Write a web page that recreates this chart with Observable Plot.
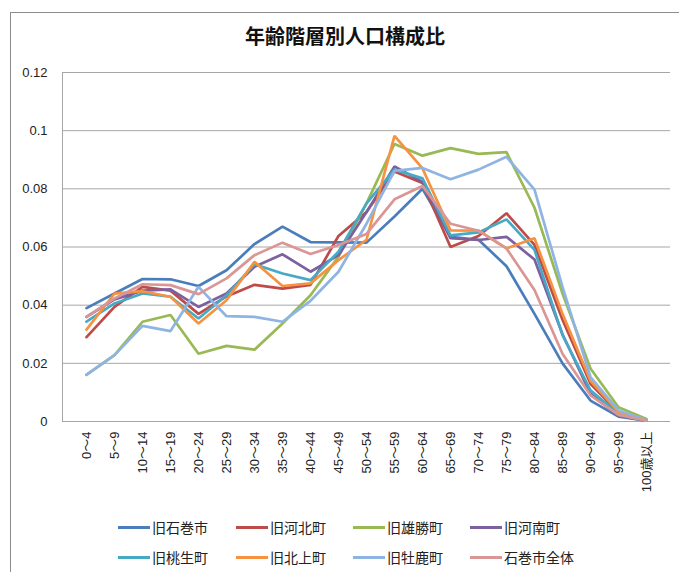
<!DOCTYPE html>
<html>
<head>
<meta charset="utf-8">
<script src="https://cdn.jsdelivr.net/npm/d3@7"></script>
<script src="https://cdn.jsdelivr.net/npm/@observablehq/plot@0.6"></script>
<style>
  body { margin: 0; background: #fff; }
  #wrap { position: relative; width: 679px; height: 572px; overflow: hidden; font-family: "Liberation Sans", "Noto Sans CJK JP", sans-serif; }
  #box { position: absolute; left: 10px; top: 12px; width: 720px; height: 620px; border: 1px solid #8c8c8c; }
  #title { position: absolute; left: 0; top: 26px; width: 690px; text-align: center; font: bold 20px/1 "Noto Sans CJK JP", sans-serif; color: #111; }
  #chart { position: absolute; left: 0; top: 60px; }
  #legend { position: absolute; left: 0; top: 512px; width: 679px; font: 14px/30px "Noto Sans CJK JP", sans-serif; color: #222; }
  .item { position: absolute; display: flex; align-items: center; }
  .sw { display: inline-block; width: 32px; height: 3px; margin-right: 2px; }
</style>
</head>
<body>
<div id="wrap">
  <div id="box"></div>
  <div id="title">年齢階層別人口構成比</div>
  <div id="chart"></div>
  <div id="legend"></div>
</div>
<script>
// 年齢階層
const ages = ["0～4", "5～9", "10～14", "15～19", "20～24", "25～29", "30～34", "35～39", "40～44", "45～49",
  "50～54", "55～59", "60～64", "65～69", "70～74", "75～79", "80～84", "85～89", "90～94", "95～99", "100歳以上"];

const seriesNames = ["旧石巻市", "旧河北町", "旧雄勝町", "旧河南町", "旧桃生町", "旧北上町", "旧牡鹿町", "石巻市全体"];
const colors = ["#4a7ebb", "#be4b48", "#98b954", "#7d60a0", "#46aac5", "#f69240", "#8eb4e3", "#da9694"];

const ishinomaki = [0.039, 0.044, 0.049, 0.0489, 0.0466, 0.052, 0.061, 0.067, 0.0617, 0.0616, 0.0615, 0.0705, 0.080, 0.0635, 0.0625, 0.0534, 0.037, 0.020, 0.0072, 0.0017, 0.0003];
const kahoku = [0.029, 0.0394, 0.0463, 0.045, 0.037, 0.043, 0.047, 0.0457, 0.047, 0.0638, 0.072, 0.086, 0.082, 0.060, 0.0638, 0.0716, 0.0607, 0.035, 0.013, 0.003, 0.0005];
const ogatsu = [0.016, 0.0228, 0.0343, 0.0366, 0.0233, 0.026, 0.0247, 0.0337, 0.0434, 0.0567, 0.075, 0.0954, 0.0914, 0.094, 0.092, 0.0926, 0.0735, 0.044, 0.0182, 0.0049, 0.0009];
const kanan = [0.036, 0.042, 0.045, 0.0454, 0.0394, 0.044, 0.0532, 0.0575, 0.0515, 0.0572, 0.072, 0.0877, 0.0824, 0.063, 0.0624, 0.0635, 0.0557, 0.030, 0.0095, 0.002, 0.0003];
const monou = [0.0343, 0.0406, 0.044, 0.0429, 0.0354, 0.0434, 0.0541, 0.0509, 0.0486, 0.0584, 0.075, 0.0866, 0.0836, 0.064, 0.065, 0.0695, 0.059, 0.0297, 0.0107, 0.0026, 0.0004];
const kitakami = [0.0316, 0.044, 0.0448, 0.0429, 0.0337, 0.0417, 0.0549, 0.0466, 0.0475, 0.0555, 0.0625, 0.0982, 0.087, 0.0657, 0.0656, 0.0595, 0.063, 0.037, 0.014, 0.0032, 0.0003];
const oshika = [0.0161, 0.0228, 0.0329, 0.0311, 0.0463, 0.0362, 0.036, 0.0343, 0.0415, 0.0515, 0.068, 0.0862, 0.0872, 0.0833, 0.0866, 0.091, 0.0797, 0.0463, 0.0153, 0.0038, 0.0004];
const zentai = [0.036, 0.0423, 0.0472, 0.0469, 0.0438, 0.0492, 0.0572, 0.0615, 0.0576, 0.0607, 0.0645, 0.0764, 0.081, 0.068, 0.0656, 0.0595, 0.0452, 0.0233, 0.009, 0.0023, 0.0003];

const yTicks = [0, 0.02, 0.04, 0.06, 0.08, 0.1, 0.12];

const allValues = [ishinomaki, kahoku, ogatsu, kanan, monou, kitakami, oshika, zentai];

// 縦持ちに変換
let rows = [];
seriesNames.forEach((name, i) => {
  allValues[i].forEach((v, j) => rows.push({series: name, age: ages[j], value: v}));
});

let chart = Plot.plot({
  width: 679,
  height: 452,
  marginTop: 12,
  marginLeft: 62,
  marginRight: 9,
  marginBottom: 91,
  style: {fontFamily: "'Liberation Sans', 'Noto Sans CJK JP', sans-serif", fontSize: "13px", color: "#222"},
  x: {type: "point", domain: ages, padding: 0.5, label: null},
  y: {domain: [0, 0.12], label: null},
  color: {domain: seriesNames, range: colors},
  marks: [
    Plot.gridY(yTicks, {stroke: "#a6a6a6", strokeOpacity: 1}),
    Plot.frame({anchor: "left", stroke: "#a6a6a6"}),
    Plot.axisY(yTicks, {tickSize: 0, tickPadding: 15, tickFormat: d3.format("~g"), label: null}),
    Plot.axisX({tickSize: 0, tickPadding: 10, tickRotate: -90, label: null}),
    Plot.line(rows, {x: "age", y: "value", z: "series", stroke: "series", strokeWidth: 2.7, strokeLinejoin: "miter"})
  ]
});

d3.select('#chart').append(() => chart);

// 凡例
const colX = [118, 236, 353, 470];
const leg = d3.select('#legend');
seriesNames.forEach((name, i) => {
  let item = leg.append('div').attr('class', 'item')
    .style('left', colX[i % 4] + 'px')
    .style('top', (i < 4 ? 0 : 30) + 'px');
  item.append('span').attr('class', 'sw').style('background', colors[i]);
  item.append('span').text(name);
});
</script>
</body>
</html>
